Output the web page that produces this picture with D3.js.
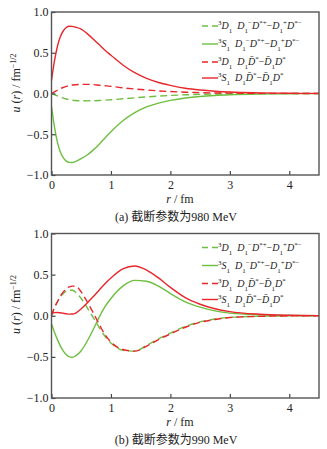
<!DOCTYPE html>
<html>
<head>
<meta charset="utf-8">
<script src="https://d3js.org/d3.v7.min.js"></script>
<style>
  body { margin: 0; background: #fff; }
  text { font-family: "Liberation Serif", "Times New Roman", "DejaVu Serif", "Noto Sans CJK SC", serif; fill: #222; }
  .tick text { font-size: 12px; }
  .lg { font-size: 10px; }
</style>
</head>
<body>
<script>
// r grid (fm) shared by all curves
var r = [0, 0.05, 0.1, 0.15, 0.2, 0.25, 0.3, 0.35, 0.4, 0.5, 0.6, 0.7, 0.8, 0.9, 1.0,
         1.2, 1.4, 1.6, 1.8, 2.0, 2.25, 2.5, 2.75, 3.0, 3.5, 4.0, 4.5];

// (a) cutoff 980 MeV
var a_greenD = [0, -0.015, -0.03, -0.045, -0.057, -0.067, -0.075, -0.081, -0.085, -0.089, -0.09, -0.089, -0.086, -0.082, -0.077,
                -0.065, -0.053, -0.042, -0.032, -0.024, -0.016, -0.011, -0.007, -0.004, -0.002, -0.001, 0];
var a_greenS = [-0.16, -0.41, -0.6, -0.72, -0.79, -0.83, -0.845, -0.846, -0.835, -0.8, -0.755, -0.695, -0.625, -0.545, -0.47,
                -0.335, -0.235, -0.165, -0.118, -0.085, -0.055, -0.036, -0.024, -0.016, -0.007, -0.003, -0.001];
var a_redD = [0, 0.02, 0.04, 0.06, 0.075, 0.088, 0.097, 0.104, 0.108, 0.112, 0.112, 0.109, 0.102, 0.095, 0.088,
              0.07, 0.055, 0.043, 0.032, 0.024, 0.016, 0.011, 0.007, 0.005, 0.002, 0.001, 0];
var a_redS = [0.16, 0.4, 0.58, 0.7, 0.77, 0.81, 0.825, 0.824, 0.815, 0.79, 0.735, 0.67, 0.6, 0.53, 0.47,
              0.35, 0.255, 0.185, 0.135, 0.1, 0.065, 0.043, 0.028, 0.018, 0.008, 0.003, 0.001];

// (b) cutoff 990 MeV
var b_greenD = [0, 0.1, 0.17, 0.23, 0.27, 0.3, 0.31, 0.31, 0.29, 0.21, 0.1, -0.02, -0.14, -0.25, -0.33,
                -0.42, -0.43, -0.36, -0.28, -0.21, -0.13, -0.075, -0.04, -0.02, -0.006, -0.002, 0];
var b_greenS = [-0.1, -0.2, -0.29, -0.37, -0.43, -0.475, -0.5, -0.505, -0.49, -0.425, -0.31, -0.17, -0.02, 0.11, 0.21,
                0.36, 0.43, 0.42, 0.36, 0.27, 0.17, 0.105, 0.06, 0.032, 0.011, 0.004, 0.001];
var b_redD = [0, 0.1, 0.17, 0.24, 0.29, 0.33, 0.35, 0.36, 0.36, 0.29, 0.17, 0.04, -0.1, -0.23, -0.32,
              -0.41, -0.43, -0.37, -0.29, -0.22, -0.14, -0.08, -0.045, -0.022, -0.007, -0.002, 0];
var b_redS = [0.028, 0.038, 0.04, 0.036, 0.03, 0.024, 0.02, 0.021, 0.03, 0.085, 0.155, 0.23, 0.31, 0.39, 0.46,
              0.57, 0.605, 0.555, 0.46, 0.345, 0.22, 0.14, 0.085, 0.05, 0.018, 0.006, 0.002];

var xTicks = [0, 1, 2, 3, 4];
var yTicks = [-1, -0.5, 0, 0.5, 1];
var captions = ["(a) 截断参数为980 MeV", "(b) 截断参数为990 MeV"];

var green = "#6dbf3f", red = "#e8262b";

var svg = d3.select("body").append("svg")
    .attr("width", 327)
    .attr("height", 449);

var x = d3.scaleLinear().domain([0, 4.5]).range([51.5, 319]);

function sub(t, s) { t.append("tspan").attr("baseline-shift", "sub").attr("font-size", "7px").text(s); }
function sup(t, s) { t.append("tspan").attr("baseline-shift", "super").attr("font-size", "7px").text(s); }
function it(t, s, dx) { t.append("tspan").attr("font-style", "italic").attr("dx", dx || null).text(s); }

function legendRow(g, y, color, dashed, wave, pair) {
    g.append("line")
        .attr("x1", 202).attr("x2", 218)
        .attr("y1", y).attr("y2", y)
        .attr("stroke", color).attr("stroke-width", 1.4)
        .attr("stroke-dasharray", dashed ? "6,4" : null);
    var t = g.append("text").attr("class", "lg").attr("x", 218).attr("y", y + 3);
    sup(t, "3"); it(t, wave); sub(t, "1");
    if (pair == 0) {
        it(t, "D", 5); sub(t, "1"); sup(t, "−");
        it(t, "D"); sup(t, "*+");
        t.append("tspan").text("−");
        it(t, "D"); sub(t, "1"); sup(t, "+");
        it(t, "D"); sup(t, "*−");
    } else {
        it(t, "D", 5); sub(t, "1");
        it(t, "D\u0304"); sup(t, "*");
        t.append("tspan").text("−");
        it(t, "D\u0304"); sub(t, "1");
        it(t, "D"); sup(t, "*");
    }
}

function drawPanel(top, bottom, series, caption) {
    var y = d3.scaleLinear().domain([-1, 1]).range([bottom, top]);
    var g = svg.append("g");

    var line = d3.line()
        .x(function(d, i) { return x(r[i]); })
        .y(function(d) { return y(d); })
        .curve(d3.curveMonotoneX);

    // curves
    series.forEach(function(s) {
        g.append("path")
            .attr("d", line(s.values))
            .attr("fill", "none")
            .attr("stroke", s.color)
            .attr("stroke-width", 1.4)
            .attr("stroke-dasharray", s.dashed ? "7,4" : null);
    });

    // axes with inward ticks
    var xa = g.append("g")
        .attr("transform", "translate(0," + bottom + ")")
        .call(d3.axisBottom(x).tickValues(xTicks).tickSize(-4).tickPadding(5).tickFormat(d3.format("d")));
    var ya = g.append("g")
        .attr("transform", "translate(" + x(0) + ",0)")
        .call(d3.axisLeft(y).tickValues(yTicks).tickSize(-4).tickPadding(3)
            .tickFormat(function(d) { return d3.format(".1f")(d).replace("-", "−"); }));
    [xa, ya].forEach(function(a) {
        a.attr("font-family", null);
        a.select(".domain").remove();
        a.selectAll("line").attr("stroke", "#444").attr("stroke-width", 1.2);
        a.selectAll("text").attr("fill", "#222");
    });

    // frame
    g.append("rect")
        .attr("x", x(0)).attr("y", top)
        .attr("width", x(4.5) - x(0)).attr("height", bottom - top)
        .attr("fill", "none").attr("stroke", "#555").attr("stroke-width", 1.4);

    // legend
    var legY = [top + 14, top + 32, top + 50, top + 66];
    series.forEach(function(s, i) {
        legendRow(g, legY[i], s.color, s.dashed, s.wave, s.pair);
    });

    // y label
    var yl = g.append("text")
        .attr("transform", "translate(20," + (top + 71) + ") rotate(-90)")
        .attr("text-anchor", "middle")
        .attr("font-size", "12px");
    it(yl, "u");
    yl.append("tspan").text(" (");
    it(yl, "r");
    yl.append("tspan").text(") / fm");
    yl.append("tspan").attr("baseline-shift", "super").attr("font-size", "8px").text("−1/2");

    // x label
    var xl = g.append("text")
        .attr("x", 180).attr("y", bottom + 28)
        .attr("text-anchor", "middle")
        .attr("font-size", "12px");
    it(xl, "r");
    xl.append("tspan").text(" / fm");

    g.append("text")
        .attr("x", 176).attr("y", bottom + 46)
        .attr("text-anchor", "middle")
        .attr("font-size", "12px")
        .text(caption);
}

drawPanel(12, 175, [
    { values: a_greenD, color: green, dashed: true, wave: "D", pair: 0 },
    { values: a_greenS, color: green, dashed: false, wave: "S", pair: 0 },
    { values: a_redD, color: red, dashed: true, wave: "D", pair: 1 },
    { values: a_redS, color: red, dashed: false, wave: "S", pair: 1 }
], captions[0]);

drawPanel(233.5, 398, [
    { values: b_greenD, color: green, dashed: true, wave: "D", pair: 0 },
    { values: b_greenS, color: green, dashed: false, wave: "S", pair: 0 },
    { values: b_redD, color: red, dashed: true, wave: "D", pair: 1 },
    { values: b_redS, color: red, dashed: false, wave: "S", pair: 1 }
], captions[1]);
</script>
</body>
</html>
